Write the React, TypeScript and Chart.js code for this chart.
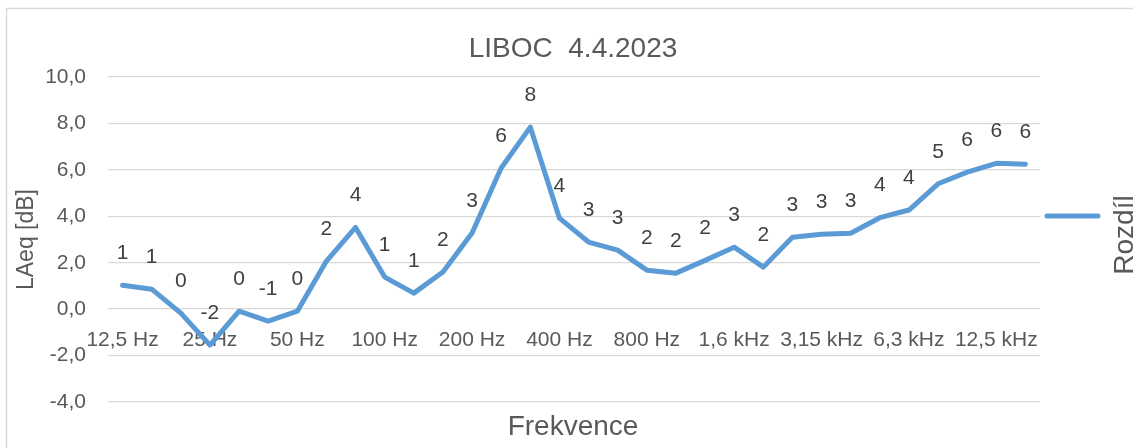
import React, { useEffect, useRef } from 'react';
import { Chart, registerables } from 'chart.js';

Chart.register(...registerables);

const categories = [
  '12,5 Hz', '16 Hz', '20 Hz', '25 Hz', '31,5 Hz', '40 Hz', '50 Hz', '63 Hz', '80 Hz',
  '100 Hz', '125 Hz', '160 Hz', '200 Hz', '250 Hz', '315 Hz', '400 Hz', '500 Hz', '630 Hz',
  '800 Hz', '1 kHz', '1,25 kHz', '1,6 kHz', '2 kHz', '2,5 kHz', '3,15 kHz', '4 kHz', '5 kHz',
  '6,3 kHz', '8 kHz', '10 kHz', '12,5 kHz', '16 kHz',
];

const values = [
  1.03, 0.86, -0.17, -1.55, -0.09, -0.52, -0.09, 2.07, 3.52, 1.38, 0.69, 1.6, 3.28, 6.08,
  7.84, 3.92, 2.89, 2.54, 1.68, 1.55, 2.1, 2.67, 1.81, 3.1, 3.23, 3.27, 3.94, 4.27, 5.4,
  5.9, 6.28, 6.24,
];

const seriesName = 'Rozdíl';
const chartTitle = 'LIBOC  4.4.2023';
const xTitle = 'Frekvence';
const yTitle = 'LAeq [dB]';
const yMin = -4;
const yMax = 10;
const yStep = 2;
const xLabelEvery = 3;

const FONT = "'Liberation Sans', Arial, sans-serif";
const TEXT = '#595959';
const LABEL = '#404040';
const LINE = '#5B9BD5';
const GRID = '#D9D9D9';

const roundLabel = (v: number) => {
  const r = Math.sign(v) * Math.round(Math.abs(v));
  return String(r === 0 ? 0 : r);
};

const framePlugin = {
  id: 'frame',
  beforeDraw(chart: any) {
    const { ctx, width, height } = chart;
    ctx.save();
    ctx.fillStyle = '#ffffff';
    ctx.fillRect(0, 0, width, height);
    ctx.strokeStyle = GRID;
    ctx.lineWidth = 1.5;
    ctx.beginPath();
    ctx.moveTo(6.5, height + 10);
    ctx.lineTo(6.5, 8.5);
    ctx.lineTo(width + 10, 8.5);
    ctx.stroke();
    ctx.restore();
  },
};

const dataLabelPlugin = {
  id: 'pointLabels',
  afterDatasetsDraw(chart: any) {
    const { ctx } = chart;
    const meta = chart.getDatasetMeta(0);
    const data = chart.data.datasets[0].data as number[];
    ctx.save();
    ctx.font = `21px ${FONT}`;
    ctx.fillStyle = LABEL;
    ctx.textAlign = 'center';
    ctx.textBaseline = 'middle';
    meta.data.forEach((pt: any, i: number) => {
      ctx.fillText(roundLabel(data[i]), pt.x, pt.y - 32);
    });
    ctx.restore();
  },
};

const legendPlugin = {
  id: 'sideLegend',
  afterDraw(chart: any) {
    const { ctx } = chart;
    const ds = chart.data.datasets[0];
    const cy = 216;
    ctx.save();
    ctx.strokeStyle = ds.borderColor;
    ctx.lineWidth = 5;
    ctx.lineCap = 'round';
    ctx.beginPath();
    ctx.moveTo(1047, cy);
    ctx.lineTo(1098, cy);
    ctx.stroke();
    ctx.translate(1133, 235);
    ctx.rotate(-Math.PI / 2);
    ctx.font = `28px ${FONT}`;
    ctx.fillStyle = TEXT;
    ctx.textAlign = 'center';
    ctx.textBaseline = 'alphabetic';
    ctx.fillText(ds.label, 0, 0);
    ctx.restore();
  },
};

export default function App() {
  const ref = useRef<HTMLCanvasElement | null>(null);

  useEffect(() => {
    document.body.style.margin = '0';
    if (!ref.current) return;
    const chart = new Chart(ref.current, {
      type: 'line',
      data: {
        labels: categories,
        datasets: [
          {
            label: seriesName,
            data: values,
            yAxisID: 'y',
            borderColor: LINE,
            backgroundColor: LINE,
            borderWidth: 5,
            pointRadius: 0,
            tension: 0,
            borderCapStyle: 'round',
            borderJoinStyle: 'round',
          },
        ],
      },
      options: {
        responsive: false,
        animation: false,
        layout: { padding: { left: 13, right: 0, top: 0, bottom: 0 } },
        plugins: {
          legend: { display: false },
          tooltip: { enabled: false },
          title: {
            display: true,
            text: chartTitle,
            color: TEXT,
            font: { family: FONT, size: 28, weight: 'normal' },
            padding: { top: 32.5, bottom: 10.9 },
          },
          subtitle: {
            display: true,
            position: 'bottom',
            text: xTitle,
            color: TEXT,
            font: { family: FONT, size: 28, weight: 'normal' },
            padding: { top: 8.4, bottom: 4 },
          },
        },
        scales: {
          x: {
            type: 'category',
            offset: true,
            position: { y: 0 },
            grid: { display: false, drawTicks: false },
            border: { display: false },
            ticks: {
              autoSkip: false,
              maxRotation: 0,
              minRotation: 0,
              padding: 18,
              color: TEXT,
              font: { family: FONT, size: 21 },
              callback: function (this: any, v: any, i: number) {
                return i % xLabelEvery === 0 ? this.getLabelForValue(v) : '';
              },
            },
          },
          y: {
            position: 'left',
            min: yMin,
            max: yMax,
            afterFit(scale: any) {
              scale.width = 95;
            },
            grid: { color: GRID, lineWidth: 1.3, drawTicks: false },
            border: { display: false },
            ticks: {
              stepSize: yStep,
              padding: 22,
              color: TEXT,
              font: { family: FONT, size: 21 },
              callback: (v: any) => Number(v).toFixed(1).replace('.', ','),
            },
            title: {
              display: true,
              text: yTitle,
              color: TEXT,
              font: { family: FONT, size: 23 },
              padding: { top: 0.2, bottom: 0 },
            },
          },
          legendSpace: {
            type: 'linear',
            position: 'right',
            display: true,
            afterFit(scale: any) {
              scale.width = 93;
            },
            grid: { display: false, drawTicks: false },
            border: { display: false },
            ticks: { display: false },
          },
        },
      },
      plugins: [framePlugin, dataLabelPlugin, legendPlugin],
    } as any);
    return () => chart.destroy();
  }, []);

  return (
    <div style={{ width: 1133, height: 448, position: 'relative' }}>
      <canvas ref={ref} width={1133} height={448} style={{ display: 'block' }} />
    </div>
  );
}
